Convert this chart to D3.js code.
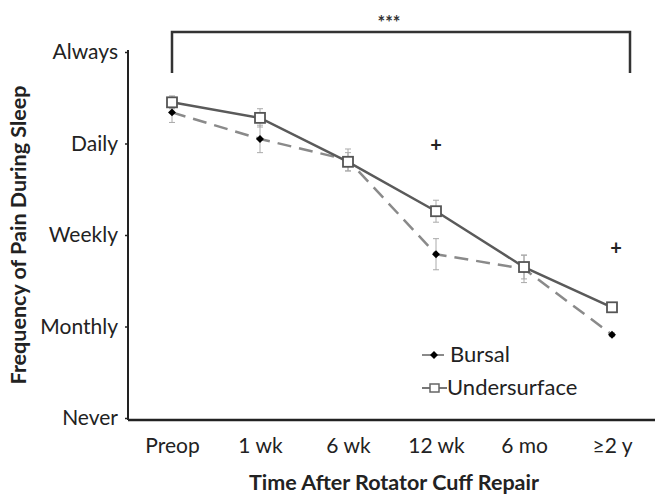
<!DOCTYPE html>
<html>
<head>
<meta charset="utf-8">
<script src="https://cdn.jsdelivr.net/npm/d3@7"></script>
<style>
  body { margin: 0; background: #fff; }
  text { font-family: Lato, "Open Sans", sans-serif; }
</style>
</head>
<body>
<div id="chart"></div>
<script>
var categories = ["Preop", "1 wk", "6 wk", "12 wk", "6 mo", "\u22652 y"];
var levelLabels = ["Never", "Monthly", "Weekly", "Daily", "Always"];
var undersurface = [3.45, 3.28, 2.80, 2.26, 1.65, 1.21];
var undersurfaceErr = [0.07, 0.10, 0.10, 0.12, 0.13, 0.02];
var bursal = [3.34, 3.05, 2.82, 1.79, 1.63, 0.91];
var bursalErr = [0.11, 0.15, 0.12, 0.17, 0.15, 0.02];
var plusMarks = [{cat: "12 wk", value: 2.98}, {cat: "\u22652 y", value: 1.86}];

function init() {
  var w = 655, h = 496;
  var left = 128, top = 52, bottom = 418;

  var svg = d3.select("#chart").append("svg")
    .attr("width", w).attr("height", h);

  var x = d3.scalePoint()
    .domain(categories)
    .range([172, 612]);

  var y = d3.scaleLinear()
    .domain([0, 4])
    .range([bottom, top]);

  // y axis
  var yAxis = d3.axisLeft(y)
    .tickValues([0, 1, 2, 3, 4])
    .tickFormat(d => levelLabels[d])
    .tickSize(3)
    .tickPadding(7);

  var gy = svg.append("g")
    .attr("transform", `translate(${left},0)`)
    .call(yAxis);
  gy.select(".domain").remove();
  gy.selectAll(".tick line").attr("stroke", "#222").attr("stroke-width", 1.5);
  gy.selectAll(".tick text").attr("font-size", 21).attr("fill", "#222")
    .style("font-family", "Lato, sans-serif");
  svg.append("line")
    .attr("x1", left).attr("x2", left)
    .attr("y1", top - 2).attr("y2", bottom + 2)
    .attr("stroke", "#222").attr("stroke-width", 2);

  // x axis
  var xAxis = d3.axisBottom(x).tickSize(0).tickPadding(18);
  var gx = svg.append("g")
    .attr("transform", `translate(0,${bottom + 2})`)
    .call(xAxis);
  gx.select(".domain").remove();
  gx.selectAll(".tick text").attr("font-size", 21).attr("fill", "#222")
    .style("font-family", "Lato, sans-serif");
  svg.append("line")
    .attr("x1", left).attr("x2", w)
    .attr("y1", bottom + 2).attr("y2", bottom + 2)
    .attr("stroke", "#222").attr("stroke-width", 2.5);

  // axis titles
  svg.append("text")
    .attr("transform", `translate(26,${(top + bottom) / 2}) rotate(-90)`)
    .attr("text-anchor", "middle")
    .attr("font-size", 21.5).attr("font-weight", "bold").attr("fill", "#222")
    .text("Frequency of Pain During Sleep");
  svg.append("text")
    .attr("x", 394).attr("y", 490)
    .attr("text-anchor", "middle")
    .attr("font-size", 21.5).attr("font-weight", "bold").attr("fill", "#222")
    .text("Time After Rotator Cuff Repair");

  // significance bracket
  var bx1 = x(categories[0]), bx2 = 630;
  svg.append("path")
    .attr("d", `M${bx1},73 V32 H${bx2} V73`)
    .attr("fill", "none").attr("stroke", "#333").attr("stroke-width", 2.5);
  svg.append("text")
    .attr("x", 389).attr("y", 29)
    .attr("text-anchor", "middle").attr("font-size", 18).attr("font-weight", "bold").attr("fill", "#333")
    .text("***");

  var series = [
    {name: "Bursal", values: bursal, err: bursalErr},
    {name: "Undersurface", values: undersurface, err: undersurfaceErr}
  ];

  // error bars
  series.forEach(function(s) {
    var g = svg.append("g").attr("stroke", "#aaa").attr("stroke-width", 1);
    categories.forEach(function(c, i) {
      var cx = x(c), y1 = y(s.values[i] + s.err[i]), y2 = y(s.values[i] - s.err[i]);
      g.append("line").attr("x1", cx).attr("x2", cx).attr("y1", y1).attr("y2", y2);
      g.append("line").attr("x1", cx - 3).attr("x2", cx + 3).attr("y1", y1).attr("y2", y1);
      g.append("line").attr("x1", cx - 3).attr("x2", cx + 3).attr("y1", y2).attr("y2", y2);
    });
  });

  var line = d3.line()
    .x((d, i) => x(categories[i]))
    .y(d => y(d));

  svg.append("path")
    .datum(bursal)
    .attr("fill", "none").attr("stroke", "#8a8a8a")
    .attr("stroke-width", 2.5).attr("stroke-dasharray", "14,8")
    .attr("d", line);

  svg.append("path")
    .datum(undersurface)
    .attr("fill", "none").attr("stroke", "#5a5a5a")
    .attr("stroke-width", 2.5)
    .attr("d", line);

  var diamond = d3.symbol().type(d3.symbolDiamond2).size(40);

  svg.selectAll(".bmark")
    .data(bursal).enter().append("path")
    .attr("class", "bmark")
    .attr("transform", (d, i) => `translate(${x(categories[i])},${y(d)})`)
    .attr("d", diamond)
    .attr("fill", "#000");

  svg.selectAll(".umark")
    .data(undersurface).enter().append("rect")
    .attr("class", "umark")
    .attr("x", (d, i) => x(categories[i]) - 5)
    .attr("y", d => y(d) - 5)
    .attr("width", 10).attr("height", 10)
    .attr("fill", "#fff").attr("stroke", "#555").attr("stroke-width", 1.8);

  // plus marks
  svg.selectAll(".plus")
    .data(plusMarks).enter().append("text")
    .attr("class", "plus")
    .attr("x", d => x(d.cat) + (d.cat === categories[5] ? 4 : 0))
    .attr("y", d => y(d.value) + 7)
    .attr("text-anchor", "middle").attr("font-size", 20).attr("font-weight", "bold").attr("fill", "#222")
    .text("+");

  // legend
  var lg = svg.append("g").attr("transform", "translate(422,355)");
  lg.append("line").attr("x1", 0).attr("x2", 22).attr("y1", 0).attr("y2", 0)
    .attr("stroke", "#8a8a8a").attr("stroke-width", 2);
  lg.append("path").attr("transform", "translate(12,0)").attr("d", diamond).attr("fill", "#000");
  lg.append("text").attr("x", 28).attr("y", 7).attr("font-size", 22).attr("fill", "#222")
    .text("Bursal");
  lg.append("line").attr("x1", 0).attr("x2", 25).attr("y1", 33).attr("y2", 33)
    .attr("stroke", "#777").attr("stroke-width", 2);
  lg.append("rect").attr("x", 8).attr("y", 29).attr("width", 9).attr("height", 8)
    .attr("fill", "#fff").attr("stroke", "#666").attr("stroke-width", 1.5);
  lg.append("text").attr("x", 25).attr("y", 40).attr("font-size", 22).attr("fill", "#222")
    .text("Undersurface");
}

window.onload = init;
</script>
</body>
</html>
